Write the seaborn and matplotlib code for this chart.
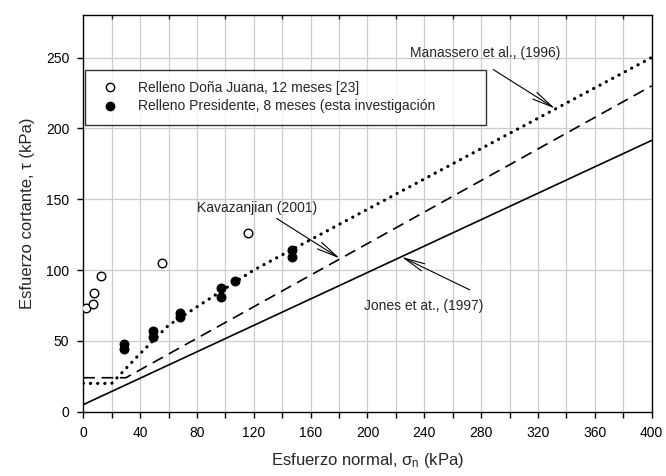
import matplotlib
matplotlib.use("Agg")
import matplotlib.pyplot as plt
import seaborn as sns
import pandas as pd
from matplotlib.lines import Line2D

# ---- data ----
dj_x = [2, 7, 7.5, 12.5, 55.5, 116]
dj_y = [73, 76, 84, 96, 105, 126]

pr_x = [29, 29, 49, 49, 68, 68, 97, 97, 107, 147, 147]
pr_y = [48, 44, 57, 53, 70, 67, 87, 81, 92, 114, 109]

jones_x = [0, 400]
jones_y = [5, 191.5]

kav_x = [0, 30, 400]
kav_y = [24, 24, 230]

man_x = [0, 20, 40, 60, 120, 400]
man_y = [20, 20, 41, 61, 100, 250]

legend_labels = ["Relleno Doña Juana, 12 meses [23]",
                 "Relleno Presidente, 8 meses (esta investigación"]
annot_labels = ["Manassero et al., (1996)", "Kavazanjian (2001)", "Jones et at., (1997)"]

sns.set_style("white")
plt.rcParams['font.family'] = ['Liberation Sans', 'DejaVu Sans']
plt.rcParams['mathtext.fontset'] = 'custom'
plt.rcParams['mathtext.rm'] = 'Liberation Sans'
plt.rcParams['mathtext.it'] = 'Liberation Sans:italic'

fig = plt.figure(figsize=(6.66, 4.76), dpi=100)
ax = fig.add_axes([0.125, 0.135, 0.8535, 0.8335])

# grid
for gx in range(20, 400, 20):
    ax.axvline(gx, color='#cccccc', lw=0.9, zorder=0)
for gy in range(50, 280, 50):
    ax.axhline(gy, color='#cccccc', lw=0.9, zorder=0)

df_j = pd.DataFrame({'x': jones_x, 'y': jones_y})
df_k = pd.DataFrame({'x': kav_x, 'y': kav_y})
df_m = pd.DataFrame({'x': man_x, 'y': man_y})

sns.lineplot(data=df_j, x='x', y='y', ax=ax, color='black', lw=1.2,
             sort=False, estimator=None, zorder=3)
sns.lineplot(data=df_k, x='x', y='y', ax=ax, color='black', lw=1.2,
             sort=False, estimator=None, zorder=3)
ax.lines[-1].set_dashes([7, 4])
sns.lineplot(data=df_m, x='x', y='y', ax=ax, color='black', lw=2.3,
             sort=False, estimator=None, zorder=3)
ax.lines[-1].set_dashes([0.05, 2.2])
ax.lines[-1].set_dash_capstyle('round')

df_dj = pd.DataFrame({'x': dj_x, 'y': dj_y})
df_pr = pd.DataFrame({'x': pr_x, 'y': pr_y})
sns.scatterplot(data=df_dj, x='x', y='y', ax=ax, s=38, facecolor='white',
                edgecolor='black', linewidth=1.0, zorder=4)
sns.scatterplot(data=df_pr, x='x', y='y', ax=ax, s=38, color='black',
                edgecolor='black', linewidth=1.0, zorder=4)

ax.set_xlim(0, 400)
ax.set_ylim(0, 280)
ax.set_xticks(range(0, 401, 40))
ax.set_xticks(range(20, 400, 40), minor=True)
ax.set_yticks(range(0, 251, 50))
ax.tick_params(axis='both', which='both', direction='out', length=4,
               width=1, labelsize=10, colors='black', bottom=True, left=True)
ax.tick_params(axis='both', which='major', pad=6)

sec = ax.secondary_xaxis('top')
sec.set_xticks(range(20, 400, 40))
sec.tick_params(direction='in', length=3, width=1, labelsize=0, labeltop=False)
sec.spines['top'].set_visible(False)

for sp in ax.spines.values():
    sp.set_color('black')
    sp.set_linewidth(1.0)
    sp.set_visible(True)

ax.set_xlabel('Esfuerzo normal, σ$_{\\mathrm{n}}$ (kPa)', fontsize=12, labelpad=8)
ax.set_ylabel('Esfuerzo cortante, τ (kPa)', fontsize=12, labelpad=8)

arrow = dict(arrowstyle='->,head_length=1.5,head_width=0.28', color='black', lw=0.8,
             shrinkA=0, shrinkB=0, mutation_scale=10)
# text labels
ax.text(283, 253, annot_labels[0], fontsize=10, ha='center', va='center', zorder=5)
ax.text(122, 143.7, annot_labels[1], fontsize=10, ha='center', va='center', zorder=5)
ax.text(239.4, 74.5, annot_labels[2], fontsize=10, ha='center', va='center', zorder=5)
# arrows
ax.annotate('', xy=(332, 214), xytext=(288.5, 241.5), arrowprops=arrow, zorder=5)
ax.annotate('', xy=(180.5, 108.2), xytext=(136.1, 136.4), arrowprops=arrow, zorder=5)
ax.annotate('', xy=(224, 109.3), xytext=(272, 86), arrowprops=arrow, zorder=5)

handles = [Line2D([], [], marker='o', ls='none', ms=6, mfc='white', mec='black', mew=1.0),
           Line2D([], [], marker='o', ls='none', ms=6, mfc='black', mec='black', mew=1.0)]
leg = ax.legend(handles, legend_labels, loc='upper left',
                bbox_to_anchor=(0.003, 0.732, 0.706, 0.129), mode='expand',
                borderaxespad=0, fontsize=10, frameon=True, fancybox=False,
                handletextpad=1.0, labelspacing=0.3, borderpad=0.8, handlelength=2.0)
leg.get_frame().set_edgecolor('black')
leg.get_frame().set_linewidth(1.0)
leg.set_zorder(6)

fig.savefig('out.png', dpi=100)
